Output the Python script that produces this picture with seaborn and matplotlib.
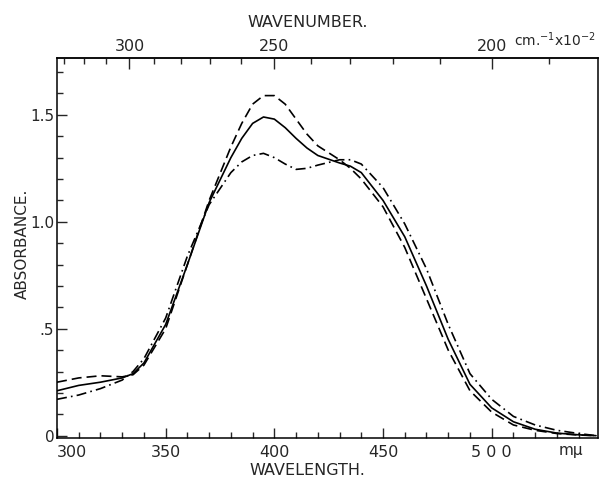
import numpy as np
import pandas as pd
import seaborn as sns
import matplotlib.pyplot as plt
from matplotlib.ticker import MultipleLocator, FixedLocator

# wavelength grid (m-mu) and absorbance
wavelength = [300, 310, 320, 330, 335, 340, 350, 360, 370, 380, 385, 390, 395, 400,
              405, 410, 415, 420, 430, 435, 440, 450, 460, 470, 480, 490, 500, 510,
              520, 530, 540, 548]
solid = [0.21, 0.235, 0.25, 0.27, 0.29, 0.34, 0.52, 0.80, 1.09, 1.30, 1.39, 1.46, 1.49, 1.48,
         1.44, 1.39, 1.345, 1.31, 1.275, 1.26, 1.23, 1.10, 0.93, 0.70, 0.45, 0.24, 0.13, 0.065,
         0.03, 0.012, 0.004, 0.0]
dashed = [0.25, 0.27, 0.28, 0.275, 0.285, 0.33, 0.50, 0.80, 1.10, 1.35, 1.46, 1.55, 1.59, 1.59,
          1.55, 1.48, 1.41, 1.355, 1.29, 1.25, 1.20, 1.07, 0.88, 0.64, 0.40, 0.21, 0.11, 0.05,
          0.025, 0.01, 0.003, 0.0]
dashdot = [0.17, 0.19, 0.22, 0.26, 0.30, 0.36, 0.55, 0.84, 1.08, 1.23, 1.28, 1.31, 1.32, 1.30,
           1.27, 1.245, 1.25, 1.265, 1.29, 1.29, 1.27, 1.16, 0.99, 0.78, 0.52, 0.29, 0.17, 0.09,
           0.05, 0.025, 0.01, 0.0]

df = pd.DataFrame({
    'wavelength': wavelength * 3,
    'absorbance': solid + dashed + dashdot,
    'curve': ['a'] * len(wavelength) + ['b'] * len(wavelength) + ['c'] * len(wavelength),
})

sns.set_style('ticks')
plt.rcParams['font.family'] = ['DejaVu Sans']

fig = plt.figure(figsize=(6, 4.79), dpi=100)
ax = fig.add_axes([0.095, 0.086, 0.902, 0.793])

sns.lineplot(data=df, x='wavelength', y='absorbance', style='curve',
             dashes={'a': '', 'b': (6, 3), 'c': (6, 2.5, 1, 2.5)},
             color='black', linewidth=1.2, legend=False, ax=ax)

ax.set_xlim(300, 549)
ax.set_ylim(-0.01, 1.766)

for s in ax.spines.values():
    s.set_linewidth(1.1)
    s.set_color('black')

# bottom axis
ax.xaxis.set_major_locator(FixedLocator([300, 350, 400, 450, 500]))
ax.xaxis.set_minor_locator(MultipleLocator(10))
ax.set_xticklabels(['300', '350', '400', '450', '5 0 0'])
ax.get_xticklabels()[0].set_ha('left')
ax.tick_params(axis='x', which='major', direction='in', length=7, width=1,
               labelsize=11.5, pad=5)
ax.tick_params(axis='x', which='minor', direction='in', length=4, width=1)

# left axis
ax.yaxis.set_major_locator(FixedLocator([0, 0.5, 1.0, 1.5]))
ax.yaxis.set_minor_locator(MultipleLocator(0.1))
ax.set_yticklabels(['0', '.5', '1.0', '1.5'])
ax.tick_params(axis='y', which='major', direction='in', length=7, width=1,
               labelsize=11, pad=2)
ax.tick_params(axis='y', which='minor', direction='in', length=4, width=1)
ax.tick_params(right=False, top=False, which='both')

ax.set_xlabel('')
ax.set_ylabel('')

# top axis: wavenumber in cm^-1 x 10^-2
top = ax.secondary_xaxis('top', functions=(lambda x: 1e5 / np.asarray(x, float),
                                           lambda k: 1e5 / np.asarray(k, float)))
top.xaxis.set_major_locator(FixedLocator([300, 250, 200]))
top.xaxis.set_minor_locator(FixedLocator(list(range(190, 340, 10))))
top.tick_params(axis='x', which='major', direction='in', length=8, width=1,
                labelsize=11.5, pad=3)
top.tick_params(axis='x', which='minor', direction='in', length=4, width=1)
top.spines['top'].set_linewidth(1.1)

fig.text(0.513, 0.953, 'WAVENUMBER.', ha='center', va='center', fontsize=11.5)
fig.text(0.513, 0.017, 'WAVELENGTH.', ha='center', va='center', fontsize=11.5)
fig.text(0.037, 0.49, 'ABSORBANCE.', ha='center', va='center', fontsize=11,
         rotation=90)
fig.text(0.952, 0.059, 'm\u03bc', ha='center', va='center', fontsize=11)
fig.text(0.857, 0.918, 'cm.$^{-1}$x10$^{-2}$', ha='left', va='center', fontsize=10)

fig.savefig('out.png', dpi=100)
